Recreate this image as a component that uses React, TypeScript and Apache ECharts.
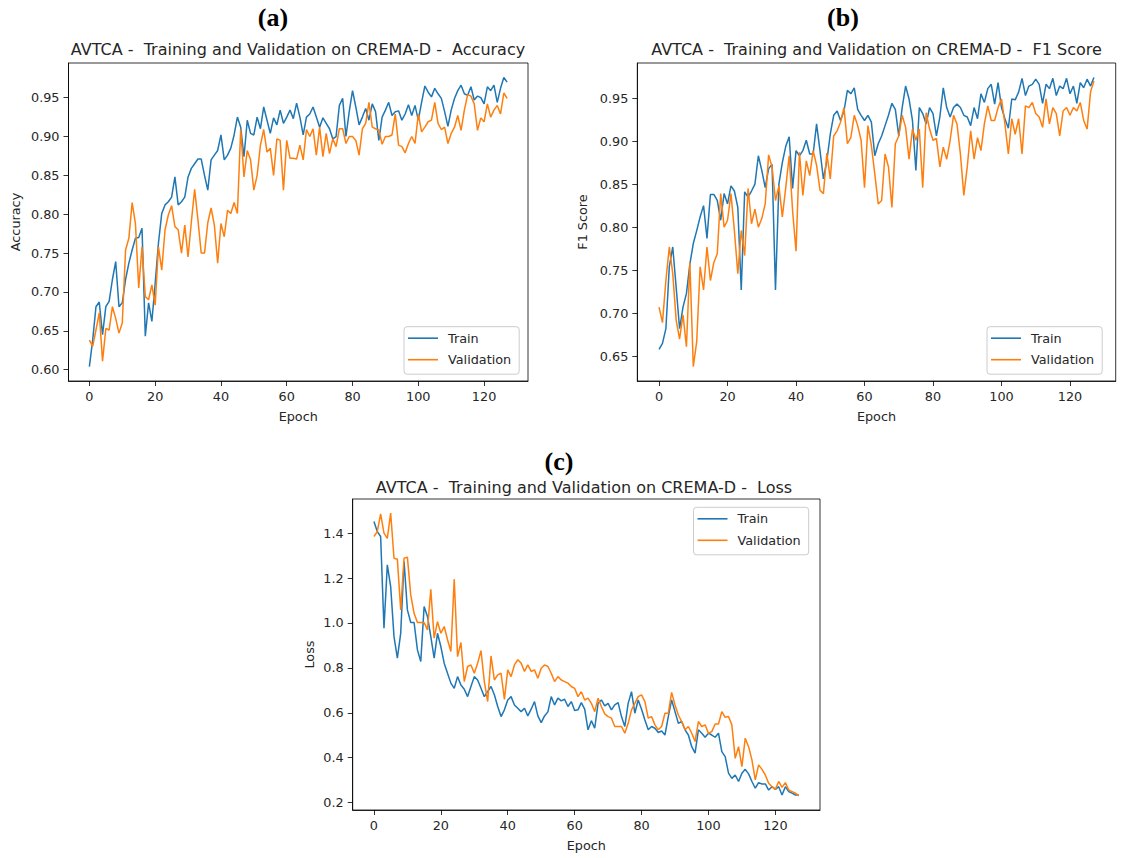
import React, { useEffect, useRef } from "react";
import * as echarts from "echarts";

const FONT = "DejaVu Sans";
const BLUE = "#1f77b4";
const ORANGE = "#ff7f0e";
const TXT = "#262626";

const xTicks = [0, 20, 40, 60, 80, 100, 120];
const accTicks = [0.6, 0.65, 0.7, 0.75, 0.8, 0.85, 0.9, 0.95];
const f1Ticks = [0.65, 0.7, 0.75, 0.8, 0.85, 0.9, 0.95];
const lossTicks = [0.2, 0.4, 0.6, 0.8, 1.0, 1.2, 1.4];

const accTrain = [
  0.604, 0.638, 0.681, 0.687, 0.645, 0.681, 0.688, 0.716, 0.739, 0.681,
  0.686, 0.716, 0.737, 0.754, 0.769, 0.77, 0.782, 0.643, 0.686, 0.662,
  0.711, 0.763, 0.801, 0.812, 0.816, 0.822, 0.848, 0.812, 0.816, 0.822,
  0.848, 0.859, 0.865, 0.871, 0.871, 0.85, 0.831, 0.87, 0.876, 0.882,
  0.902, 0.87, 0.876, 0.885, 0.902, 0.925, 0.912, 0.874, 0.921, 0.904,
  0.902, 0.925, 0.91, 0.938, 0.921, 0.904, 0.924, 0.915, 0.934, 0.917,
  0.925, 0.934, 0.923, 0.943, 0.925, 0.902, 0.925, 0.929, 0.938, 0.925,
  0.912, 0.924, 0.917, 0.91, 0.897, 0.9, 0.94, 0.949, 0.9, 0.932,
  0.959, 0.938, 0.915, 0.925, 0.936, 0.921, 0.942, 0.932, 0.895, 0.925,
  0.934, 0.944, 0.927, 0.932, 0.933, 0.921, 0.929, 0.941, 0.927, 0.94,
  0.921, 0.944, 0.965, 0.957, 0.951, 0.962, 0.955, 0.949, 0.932, 0.913,
  0.934, 0.949, 0.959, 0.966, 0.955, 0.953, 0.964, 0.947, 0.952, 0.95,
  0.942, 0.964, 0.959, 0.966, 0.944, 0.962, 0.976, 0.97,
];
const accVal = [
  0.638, 0.63, 0.651, 0.673, 0.611, 0.653, 0.651, 0.681, 0.666, 0.647,
  0.66, 0.754, 0.769, 0.815, 0.788, 0.705, 0.758, 0.694, 0.69, 0.709,
  0.683, 0.758, 0.728, 0.78, 0.799, 0.811, 0.784, 0.78, 0.75, 0.786,
  0.745, 0.79, 0.832, 0.793, 0.75, 0.75, 0.789, 0.808, 0.786, 0.737,
  0.788, 0.771, 0.805, 0.801, 0.815, 0.801, 0.909, 0.848, 0.882, 0.87,
  0.831, 0.85, 0.889, 0.909, 0.88, 0.885, 0.85, 0.897, 0.895, 0.831,
  0.895, 0.872, 0.872, 0.871, 0.889, 0.87, 0.909, 0.9, 0.91, 0.876,
  0.912, 0.874, 0.904, 0.878, 0.897, 0.887, 0.91, 0.91, 0.891, 0.9,
  0.9, 0.895, 0.876, 0.91, 0.917, 0.944, 0.912, 0.91, 0.908, 0.89,
  0.9, 0.9, 0.902, 0.929, 0.889, 0.887, 0.879, 0.891, 0.9, 0.891,
  0.929, 0.906, 0.912, 0.919, 0.921, 0.944, 0.917, 0.909, 0.912, 0.891,
  0.904, 0.912, 0.927, 0.908, 0.934, 0.954, 0.952, 0.942, 0.908, 0.924,
  0.919, 0.942, 0.925, 0.934, 0.94, 0.929, 0.956, 0.949,
];
const f1Train = [
  0.658, 0.665, 0.682, 0.754, 0.777, 0.73, 0.682, 0.707, 0.723, 0.757,
  0.781, 0.796, 0.812, 0.825, 0.787, 0.838, 0.838, 0.831, 0.808, 0.839,
  0.827, 0.848, 0.842, 0.823, 0.727, 0.841, 0.835, 0.842, 0.85, 0.883,
  0.866, 0.846, 0.868, 0.873, 0.727, 0.85, 0.875, 0.894, 0.905, 0.845,
  0.889, 0.883, 0.889, 0.901, 0.885, 0.885, 0.92, 0.889, 0.856, 0.877,
  0.908, 0.93, 0.935, 0.924, 0.935, 0.959, 0.955, 0.962, 0.937, 0.93,
  0.924, 0.93, 0.922, 0.883, 0.897, 0.906, 0.918, 0.93, 0.944, 0.937,
  0.906, 0.939, 0.964, 0.949, 0.924, 0.866, 0.939, 0.932, 0.92, 0.939,
  0.932, 0.906, 0.928, 0.962, 0.939, 0.928, 0.939, 0.943, 0.939, 0.93,
  0.928, 0.918, 0.939, 0.926, 0.955, 0.945, 0.961, 0.966, 0.943, 0.968,
  0.939, 0.926, 0.915, 0.949, 0.948, 0.957, 0.973, 0.953, 0.964, 0.966,
  0.972, 0.966, 0.944, 0.966, 0.961, 0.973, 0.953, 0.964, 0.961, 0.973,
  0.955, 0.964, 0.944, 0.968, 0.962, 0.972, 0.964, 0.974,
];
const f1Val = [
  0.707, 0.689, 0.738, 0.777, 0.746, 0.692, 0.67, 0.698, 0.661, 0.759,
  0.638, 0.667, 0.754, 0.727, 0.777, 0.738, 0.759, 0.769, 0.839, 0.8,
  0.808, 0.839, 0.796, 0.746, 0.796, 0.767, 0.845, 0.804, 0.821, 0.8,
  0.81, 0.827, 0.884, 0.87, 0.831, 0.848, 0.812, 0.846, 0.883, 0.819,
  0.772, 0.887, 0.837, 0.877, 0.86, 0.889, 0.872, 0.843, 0.839, 0.886,
  0.856, 0.906, 0.912, 0.922, 0.939, 0.897, 0.904, 0.93, 0.918, 0.901,
  0.846, 0.918, 0.895, 0.862, 0.827, 0.831, 0.885, 0.87, 0.823, 0.897,
  0.906, 0.93, 0.916, 0.879, 0.914, 0.901, 0.914, 0.846, 0.933, 0.914,
  0.901, 0.903, 0.87, 0.893, 0.879, 0.901, 0.93, 0.92, 0.885, 0.837,
  0.87, 0.912, 0.879, 0.904, 0.889, 0.92, 0.941, 0.924, 0.924, 0.939,
  0.949, 0.92, 0.885, 0.926, 0.908, 0.926, 0.885, 0.941, 0.939, 0.945,
  0.932, 0.928, 0.916, 0.949, 0.92, 0.939, 0.932, 0.906, 0.935, 0.939,
  0.93, 0.939, 0.935, 0.945, 0.924, 0.914, 0.957, 0.97,
];
const lossTrain = [
  1.452, 1.407, 1.385, 0.977, 1.259, 1.162, 0.939, 0.843, 0.954, 1.274,
  1.058, 1.002, 1.002, 0.88, 0.828, 1.073, 1.029, 0.939, 0.843, 0.954,
  0.895, 0.821, 0.776, 0.732, 0.709, 0.761, 0.724, 0.705, 0.672, 0.717,
  0.761, 0.746, 0.709, 0.672, 0.694, 0.717, 0.68, 0.628, 0.583, 0.613,
  0.657, 0.672, 0.635, 0.62, 0.605, 0.62, 0.586, 0.616, 0.65, 0.586,
  0.556, 0.586, 0.604, 0.672, 0.635, 0.665, 0.653, 0.66, 0.628, 0.65,
  0.61, 0.613, 0.645, 0.616, 0.524, 0.565, 0.531, 0.642, 0.657, 0.631,
  0.642, 0.613, 0.635, 0.645, 0.583, 0.539, 0.642, 0.694, 0.598, 0.657,
  0.616, 0.568, 0.524, 0.539, 0.531, 0.512, 0.519, 0.501, 0.583, 0.657,
  0.605, 0.553, 0.561, 0.524, 0.501, 0.449, 0.42, 0.524, 0.509, 0.491,
  0.509, 0.501, 0.491, 0.509, 0.427, 0.405, 0.331, 0.308, 0.323, 0.294,
  0.331, 0.348, 0.328, 0.294, 0.264, 0.289, 0.283, 0.283, 0.256, 0.271,
  0.259, 0.271, 0.234, 0.271, 0.249, 0.242, 0.234, 0.234,
];
const lossVal = [
  1.385, 1.407, 1.486, 1.4, 1.377, 1.489, 1.288, 1.284, 1.058, 1.288,
  1.293, 1.125, 1.043, 1.002, 1.002, 1.002, 0.969, 1.15, 0.932, 1.006,
  0.954, 0.984, 0.925, 0.873, 1.195, 0.85, 0.913, 0.739, 0.806, 0.813,
  0.776, 0.821, 0.877, 0.739, 0.65, 0.853, 0.746, 0.769, 0.776, 0.66,
  0.791, 0.761, 0.813, 0.836, 0.821, 0.784, 0.813, 0.784, 0.791, 0.754,
  0.798, 0.813, 0.806, 0.776, 0.739, 0.761, 0.746, 0.739, 0.732, 0.717,
  0.709, 0.672, 0.694, 0.657, 0.665, 0.642, 0.605, 0.665, 0.628, 0.595,
  0.583, 0.576, 0.539, 0.539, 0.539, 0.509, 0.553, 0.613, 0.642, 0.672,
  0.68, 0.65, 0.576, 0.583, 0.546, 0.524, 0.539, 0.598, 0.598, 0.691,
  0.635, 0.59, 0.561, 0.524, 0.539, 0.509, 0.472, 0.561, 0.539, 0.546,
  0.509, 0.516, 0.55, 0.55, 0.605, 0.58, 0.583, 0.546, 0.397, 0.449,
  0.36, 0.487, 0.449, 0.39, 0.301, 0.368, 0.348, 0.323, 0.286, 0.271,
  0.259, 0.294, 0.268, 0.289, 0.256, 0.249, 0.242, 0.23,
];

const panelLabels = ["(a)", "(b)", "(c)"];
const titles = [
  "AVTCA -  Training and Validation on CREMA-D -  Accuracy",
  "AVTCA -  Training and Validation on CREMA-D -  F1 Score",
  "AVTCA -  Training and Validation on CREMA-D -  Loss",
];
const yNames = ["Accuracy", "F1 Score", "Loss"];

function App() {
  const ref = useRef<HTMLDivElement>(null);
  useEffect(() => {
    if (!ref.current) return;
    const chart = echarts.init(ref.current, null, { renderer: "svg" });

    const grids = [
      { left: 68.5, top: 63, width: 459.5, height: 318 },
      { left: 637.3, top: 63, width: 478.4, height: 318 },
      { left: 352.7, top: 499, width: 467.3, height: 311 },
    ];
    const panels = [
      { tr: accTrain, va: accVal, ticks: accTicks, dec: 2, nameGap: 46.5 },
      { tr: f1Train, va: f1Val, ticks: f1Ticks, dec: 2, nameGap: 48 },
      { tr: lossTrain, va: lossVal, ticks: lossTicks, dec: 1, nameGap: 37 },
    ];
    const n = accTrain.length;
    const xMin = -0.05 * (n - 1);
    const xMax = n - 1 + 0.05 * (n - 1);

    const axisLineStyle = { color: "#000", width: 0.8 };
    const labelStyle = { fontFamily: FONT, fontSize: 12.8, color: TXT };

    const xAxis: any[] = [];
    const yAxis: any[] = [];
    const series: any[] = [];
    const legend: any[] = [];

    const legendPos = [
      { left: 404, top: 326.7 },
      { left: 987, top: 326.7 },
      { left: 693.5, top: 507.3 },
    ];

    panels.forEach((p, i) => {
      const all = p.tr.concat(p.va);
      const lo = Math.min(...all);
      const hi = Math.max(...all);
      const m = (hi - lo) * 0.05;
      xAxis.push({
        type: "value",
        gridIndex: i,
        min: xMin,
        max: xMax,
        name: "Epoch",
        nameLocation: "middle",
        nameGap: 29,
        nameTextStyle: labelStyle,
        axisLine: { show: true, onZero: false, lineStyle: axisLineStyle },
        axisTick: { show: true, length: 5, customValues: xTicks, lineStyle: axisLineStyle },
        axisLabel: { ...labelStyle, margin: 9, customValues: xTicks },
        splitLine: { show: false },
      });
      yAxis.push({
        type: "value",
        gridIndex: i,
        min: lo - m,
        max: hi + m,
        name: yNames[i],
        nameLocation: "middle",
        nameGap: p.nameGap,
        nameTextStyle: labelStyle,
        axisLine: { show: true, onZero: false, lineStyle: axisLineStyle },
        axisTick: { show: true, length: 5, customValues: p.ticks, lineStyle: axisLineStyle },
        axisLabel: {
          ...labelStyle,
          margin: 9,
          customValues: p.ticks,
          formatter: (v: number) => v.toFixed(p.dec),
        },
        splitLine: { show: false },
      });
      series.push({
        type: "line",
        name: "Train",
        xAxisIndex: i,
        yAxisIndex: i,
        data: p.tr.map((v, k) => [k, v]),
        showSymbol: false,
        symbol: "none",
        color: BLUE,
        itemStyle: { color: BLUE },
        lineStyle: { color: BLUE, width: 1.5 },
        z: 2,
      });
      series.push({
        type: "line",
        name: "Validation",
        xAxisIndex: i,
        yAxisIndex: i,
        data: p.va.map((v, k) => [k, v]),
        showSymbol: false,
        symbol: "none",
        color: ORANGE,
        itemStyle: { color: ORANGE },
        lineStyle: { color: ORANGE, width: 1.5 },
        z: 3,
      });
      legend.push({
        ...legendPos[i],
        orient: "vertical",
        data: ["Train", "Validation"],
        icon: "rect",
        itemWidth: 30,
        itemHeight: 1.6,
        itemGap: 6.5,
        padding: [4, 8, 7, 4],
        backgroundColor: "rgba(255,255,255,0.8)",
        borderColor: "#cccccc",
        borderWidth: 1,
        borderRadius: 3,
        selectedMode: false,
        textStyle: { ...labelStyle, lineHeight: 15, padding: [0, 0, 0, 5] },
      });
    });

    const titlePos = [
      { x: 298, y: 49 },
      { x: 876.5, y: 49 },
      { x: 584, y: 487 },
    ];
    const labelPos = [
      { x: 273, y: 17 },
      { x: 843, y: 17 },
      { x: 559, y: 461 },
    ];
    const graphic: any[] = [];
    titles.forEach((t, i) => {
      graphic.push({
        type: "text",
        x: titlePos[i].x,
        y: titlePos[i].y,
        style: {
          text: t,
          fontFamily: FONT,
          fontSize: 16,
          fill: TXT,
          align: "center",
          verticalAlign: "middle",
          textAlign: "center",
          textVerticalAlign: "middle",
        },
      });
      graphic.push({
        type: "text",
        x: labelPos[i].x,
        y: labelPos[i].y,
        style: {
          text: panelLabels[i],
          fontFamily: "Liberation Serif",
          fontWeight: "bold",
          fontSize: 26,
          fill: "#000",
          align: "center",
          verticalAlign: "middle",
          textAlign: "center",
          textVerticalAlign: "middle",
        },
      });
    });

    chart.setOption({
      animation: false,
      backgroundColor: "#fff",
      grid: grids.map((g) => ({
        ...g,
        show: true,
        borderColor: "#000",
        borderWidth: 0.8,
        backgroundColor: "transparent",
        containLabel: false,
      })),
      xAxis,
      yAxis,
      series,
      legend,
      graphic,
    });
    return () => chart.dispose();
  }, []);
  return (
    <div
      ref={ref}
      style={{ position: "absolute", left: 0, top: 0, width: 1126, height: 858 }}
    />
  );
}

export default App;
